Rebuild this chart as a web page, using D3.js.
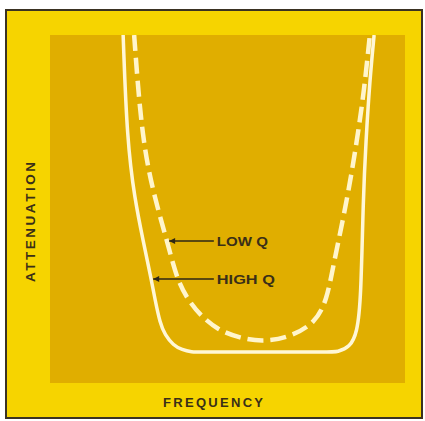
<!DOCTYPE html>
<html>
<head>
<meta charset="utf-8">
<script src="https://cdn.jsdelivr.net/npm/d3@7"></script>
<style>
  html, body { margin: 0; padding: 0; background: #ffffff; }
  svg { display: block; }
  text { font-family: "Liberation Sans", Arial, sans-serif; font-weight: bold; }
</style>
</head>
<body>
<svg id="chart" width="425" height="421"></svg>
<script>
// Response curves: frequency (relative units) vs attenuation (relative units)
const highQFreq = [20.6, 21.7, 23.9, 26.2, 28.5, 29.6, 31.0, 32.4, 34.7, 37.2, 40.0, 42.0, 60.0, 78.9, 80.9, 84.5, 86.5, 87.6, 88.2, 89.0, 90.1, 91.3];
const highQAtten = [100, 69.8, 52.6, 41.1, 29.9, 23.9, 17.2, 13.8, 10.9, 9.5, 8.9, 8.9, 8.9, 8.9, 8.9, 10.3, 14.4, 23.9, 52.6, 69.8, 87.1, 100];

const lowQFreq = [23.7, 25.9, 29.6, 33.0, 35.8, 38.9, 42.3, 47.3, 53.5, 60.0, 67.6, 74.7, 78.0, 79.7, 83.7, 86.5, 88.5, 90.1];
const lowQAtten = [100, 69.8, 52.6, 40.8, 29.6, 23.9, 19.5, 15.2, 12.9, 11.8, 13.2, 17.2, 23.9, 33.3, 52.6, 69.8, 84.2, 100];

// Callout labels: which curve, the attenuation level the arrow points at
const calloutLabels = ["LOW Q", "HIGH Q"];
const calloutAtten = [40.8, 29.9];
const calloutTextFreq = [47.0, 47.0];

const axisTitleX = "FREQUENCY";
const axisTitleY = "ATTENUATION";

const panel = { left: 50, right: 405, top: 35, bottom: 383 };

const svg = d3.select("#chart");

const x = d3.scaleLinear().domain([0, 100]).range([panel.left, panel.right]);
const y = d3.scaleLinear().domain([0, 100]).range([panel.bottom, panel.top]);

// Outer card with dark frame
svg.append("rect")
  .attr("x", 6).attr("y", 10).attr("width", 416).attr("height", 408)
  .attr("fill", "#f6d400")
  .attr("stroke", "#3a3222").attr("stroke-width", 2);

// Plot panel
svg.append("rect")
  .attr("x", panel.left).attr("y", panel.top)
  .attr("width", panel.right - panel.left).attr("height", panel.bottom - panel.top)
  .attr("fill", "#e0ae00");

svg.append("clipPath").attr("id", "panelClip")
  .append("rect")
  .attr("x", panel.left).attr("y", panel.top)
  .attr("width", panel.right - panel.left).attr("height", panel.bottom - panel.top);

const line = d3.line()
  .x(d => x(d[0]))
  .y(d => y(d[1]))
  .curve(d3.curveBasis);

const highQ = d3.zip(highQFreq, highQAtten);
const lowQ = d3.zip(lowQFreq, lowQAtten);

const plot = svg.append("g").attr("clip-path", "url(#panelClip)");

plot.append("path")
  .datum(highQ)
  .attr("d", line)
  .attr("fill", "none")
  .attr("stroke", "#fff7d6")
  .attr("stroke-width", 3.5)
  .attr("stroke-linejoin", "round");

plot.append("path")
  .datum(lowQ)
  .attr("d", line)
  .attr("fill", "none")
  .attr("stroke", "#fff5cc")
  .attr("stroke-width", 4.5)
  .attr("stroke-dasharray", "16,7");

// Find the curve's left-branch frequency at a given attenuation
function leftBranchFreq(freqs, attens, level) {
  for (let i = 0; i < freqs.length - 1; i++) {
    const a0 = attens[i], a1 = attens[i + 1];
    if ((a0 - level) * (a1 - level) <= 0 && a0 !== a1) {
      const t = (level - a0) / (a1 - a0);
      return freqs[i] + t * (freqs[i + 1] - freqs[i]);
    }
  }
  return freqs[0];
}

const curves = [[lowQFreq, lowQAtten], [highQFreq, highQAtten]];

svg.append("defs").append("marker")
  .attr("id", "arrowHead")
  .attr("viewBox", "0 0 10 10")
  .attr("refX", 10).attr("refY", 5)
  .attr("markerWidth", 5).attr("markerHeight", 4)
  .attr("orient", "auto")
  .append("path")
  .attr("d", "M0,0 L10,5 L0,10 Z")
  .attr("fill", "#2e2614");

calloutLabels.forEach((label, i) => {
  const level = calloutAtten[i];
  const tipF = leftBranchFreq(curves[i][0], curves[i][1], level);
  const yy = y(level);
  svg.append("line")
    .attr("x1", x(calloutTextFreq[i]) - 3).attr("y1", yy)
    .attr("x2", x(tipF) + 2).attr("y2", yy)
    .attr("stroke", "#2e2614").attr("stroke-width", 1.5)
    .attr("marker-end", "url(#arrowHead)");
  svg.append("text")
    .attr("x", x(calloutTextFreq[i]))
    .attr("y", yy + 5)
    .attr("font-size", 13)
    .attr("fill", "#3a2f18")
    .attr("textLength", label === "LOW Q" ? 51 : 58)
    .attr("lengthAdjust", "spacingAndGlyphs")
    .text(label);
});

// Axis titles
svg.append("text")
  .attr("x", 213).attr("y", 407)
  .attr("text-anchor", "middle")
  .attr("font-size", 13)
  .attr("fill", "#3a2f18")
  .attr("textLength", 100)
  .attr("lengthAdjust", "spacing")
  .text(axisTitleX);

svg.append("text")
  .attr("transform", "translate(35,222) rotate(-90)")
  .attr("text-anchor", "middle")
  .attr("font-size", 13.5)
  .attr("fill", "#3a2f18")
  .attr("textLength", 120)
  .attr("lengthAdjust", "spacing")
  .text(axisTitleY);
</script>
</body>
</html>
